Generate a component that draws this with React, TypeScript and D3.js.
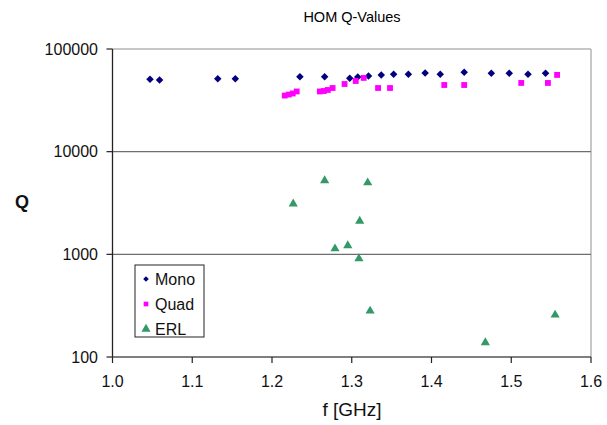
import React from "react";
import * as d3 from "d3";

const monoF = [1.047, 1.059, 1.132, 1.154, 1.235, 1.266, 1.2975, 1.3075, 1.321, 1.337, 1.3525, 1.371, 1.392, 1.411, 1.441, 1.475, 1.4975, 1.521, 1.543];
const monoQ = [50700, 49900, 51400, 51400, 53700, 53700, 52000, 53400, 54600, 55900, 56700, 56700, 58400, 56700, 59300, 58000, 58000, 56700, 58000];

const quadF = [1.216, 1.221, 1.226, 1.231, 1.26, 1.265, 1.27, 1.276, 1.291, 1.305, 1.315, 1.333, 1.348, 1.416, 1.441, 1.5125, 1.546, 1.5575];
const quadQ = [35200, 36000, 36900, 38600, 38600, 39000, 39900, 41700, 45600, 48800, 52300, 41700, 41700, 44600, 44600, 46700, 46700, 55900];

const erlF = [1.2266, 1.266, 1.279, 1.295, 1.309, 1.31, 1.32, 1.323, 1.4675, 1.555];
const erlQ = [3100, 5220, 1135, 1215, 908, 2110, 4990, 281, 138, 257];

const xTicks = [1.0, 1.1, 1.2, 1.3, 1.4, 1.5, 1.6];
const yTicks = [100, 1000, 10000, 100000];
const seriesNames = ["Mono", "Quad", "ERL"];

const W = 607, H = 425;
const L = 112.5, R = 591, T = 49, B = 357;
const font = "Arial, 'Liberation Sans', sans-serif";

export default function App() {
  const x = d3.scaleLinear().domain([1.0, 1.6]).range([L, R]);
  const y = d3.scaleLog().domain([100, 100000]).range([B, T]);

  const diamond = d3.symbol().type(d3.symbolDiamond2).size(36)();
  const square = d3.symbol().type(d3.symbolSquare).size(34)();
  const triangle = d3.symbol().type(d3.symbolTriangle2).size(60)();

  return (
    <div style={{ position: "absolute", left: 0, top: 0 }}>
      <svg width={W} height={H} style={{ display: "block", background: "#fff" }} fontFamily={font}>
        <text x={352} y={22} textAnchor="middle" fontSize={14.5} fill="#000">HOM Q-Values</text>
        <line x1={L} x2={R} y1={T} y2={T} stroke="#b4b4b4" strokeWidth={1.5} />
        <line x1={R} x2={R} y1={T} y2={B} stroke="#b4b4b4" strokeWidth={1.5} />
        {yTicks.slice(1, 3).map((v) => (
          <line key={v} x1={L} x2={R} y1={y(v)} y2={y(v)} stroke="#6e6e6e" strokeWidth={1.3} />
        ))}
        <line x1={L} x2={L} y1={T} y2={B} stroke="#222" strokeWidth={1.3} />
        <line x1={L} x2={R} y1={B} y2={B} stroke="#555" strokeWidth={1.3} />
        {yTicks.map((v) => (
          <g key={v}>
            <line x1={L - 6} x2={L} y1={y(v)} y2={y(v)} stroke="#222" strokeWidth={1.2} />
            <text x={98} y={y(v) + 5.5} textAnchor="end" fontSize={16} fill="#111">{v}</text>
          </g>
        ))}
        {xTicks.map((v) => (
          <g key={v}>
            <line x1={x(v)} x2={x(v)} y1={B} y2={B + 6} stroke="#222" strokeWidth={1.2} />
            <text x={x(v)} y={387} textAnchor="middle" fontSize={16} fill="#111">{v.toFixed(1)}</text>
          </g>
        ))}
        <text x={352} y={416} textAnchor="middle" fontSize={19} fill="#111">f [GHz]</text>
        <text x={22} y={208} textAnchor="middle" fontSize={18} fontWeight="bold" fill="#111">Q</text>

        {monoF.map((f, i) => (
          <path key={"m" + i} d={diamond} transform={`translate(${x(f)},${y(monoQ[i])})`} fill="#000080" />
        ))}
        {quadF.map((f, i) => (
          <path key={"q" + i} d={square} transform={`translate(${x(f)},${y(quadQ[i])})`} fill="#ff00ff" />
        ))}
        {erlF.map((f, i) => (
          <path key={"e" + i} d={triangle} transform={`translate(${x(f)},${y(erlQ[i])})`} fill="#339966" />
        ))}

        <rect x={135} y={265} width={69} height={72} fill="#fff" stroke="#222" strokeWidth={1} />
        {seriesNames.map((s, i) => {
          const cy = 279 + i * 25;
          const d = i === 0 ? d3.symbol().type(d3.symbolDiamond2).size(20)() : i === 1 ? d3.symbol().type(d3.symbolSquare).size(22)() : triangle;
          const c = i === 0 ? "#000080" : i === 1 ? "#ff00ff" : "#339966";
          return (
            <g key={s}>
              <path d={d} transform={`translate(146,${cy})`} fill={c} />
              <text x={155} y={cy + 5.5} fontSize={16} fill="#111">{s}</text>
            </g>
          );
        })}
      </svg>
    </div>
  );
}
